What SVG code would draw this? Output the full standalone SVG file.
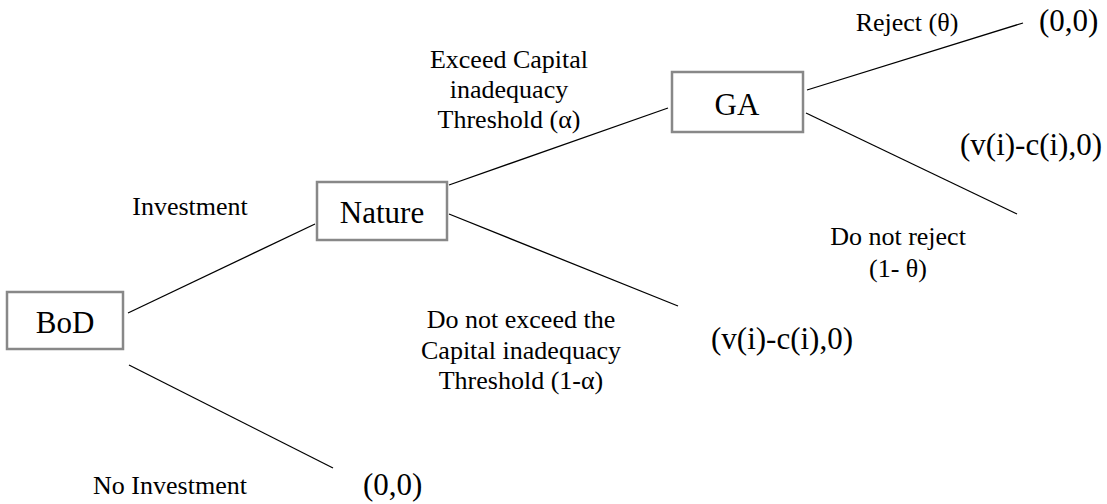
<svg xmlns="http://www.w3.org/2000/svg" width="1107" height="504" viewBox="0 0 1107 504">
<style>
.box{fill:#fff;stroke:#888;stroke-width:2.5}
text{font-family:'Liberation Serif','DejaVu Serif',serif;fill:#000}
.node{font-size:31px;text-anchor:middle}
.lbl{font-size:26px;text-anchor:middle}
.pay{font-size:31px;text-anchor:start}
.edge{stroke:#000;stroke-width:1.3;fill:none}
</style>
<rect width="1107" height="504" fill="#fff"/>
<g id="connectors">
<line class="edge" x1="128" y1="313" x2="315" y2="224"/>
<line class="edge" x1="129" y1="365" x2="333" y2="468"/>
<line class="edge" x1="449" y1="185" x2="668" y2="108"/>
<line class="edge" x1="449" y1="214" x2="678" y2="306"/>
<line class="edge" x1="807" y1="90" x2="1023" y2="23"/>
<line class="edge" x1="806" y1="113" x2="1017" y2="214"/>
</g>
<g id="node-bod">
<rect class="box" x="7" y="292" width="116" height="57"/>
<text class="node" x="65" y="333" font-family="Liberation Serif">BoD</text>
</g>
<g id="node-nature">
<rect class="box" x="317" y="182" width="130" height="58"/>
<text class="node" x="382" y="223">Nature</text>
</g>
<g id="node-ga">
<rect class="box" x="672" y="72" width="131" height="60"/>
<text class="node" x="737" y="115">GA</text>
</g>
<g id="labels">
<text class="lbl" x="190" y="215">Investment</text>
<text class="lbl" x="170" y="494">No Investment</text>
<text class="lbl" x="509" y="68">Exceed Capital</text>
<text class="lbl" x="509" y="98">inadequacy</text>
<text class="lbl" x="509" y="128">Threshold (α)</text>
<text class="lbl" x="521" y="328">Do not exceed the</text>
<text class="lbl" x="521" y="359">Capital inadequacy</text>
<text class="lbl" x="521" y="389">Threshold (1-α)</text>
<text class="lbl" x="907" y="31">Reject (θ)</text>
<text class="lbl" x="898" y="245">Do not reject</text>
<text class="lbl" x="898" y="277">(1- θ)</text>
</g>
<g id="payoffs">
<text class="pay" x="1039" y="31">(0,0)</text>
<text class="pay" x="960" y="155">(v(i)-c(i),0)</text>
<text class="pay" x="711" y="349">(v(i)-c(i),0)</text>
<text class="pay" x="363" y="495">(0,0)</text>
</g>
</svg>
